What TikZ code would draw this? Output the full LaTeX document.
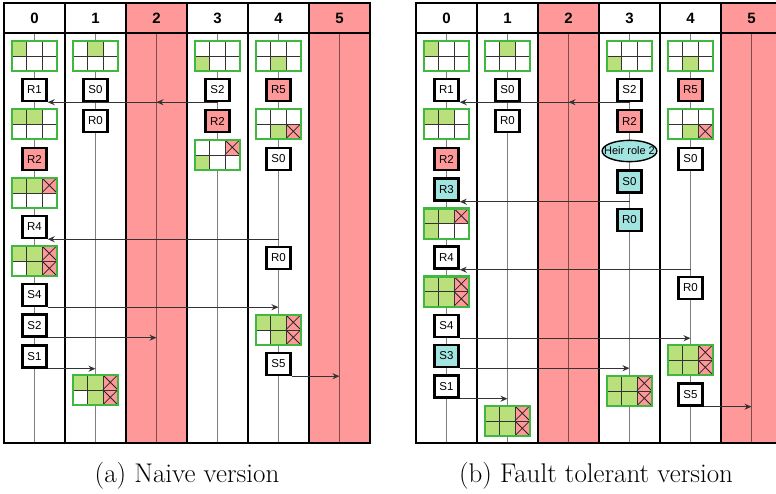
\documentclass[tikz,border=0pt]{standalone}
\usepackage{fontspec}
\setsansfont{Liberation Sans}
\usetikzlibrary{arrows.meta,calc,shapes.geometric}

\definecolor{failred}{RGB}{255,153,153}
\definecolor{cellgreen}{RGB}{185,224,122}
\definecolor{gridgreen}{RGB}{64,184,64}
\definecolor{heircyan}{RGB}{162,228,224}

% state of the 3x2 board: name, centre, list of cell/style
\newcommand{\stategrid}[3]{%
  \node[gridbox] (#1) at (#2) {};
  \foreach \ci/\k in {#3} {
    \pgfmathtruncatemacro\cx{mod(\ci,3)}
    \pgfmathtruncatemacro\cy{(\ci-\cx)/3}
    \path[\k] ([xshift=\cx*15pt, yshift=-\cy*15pt]#1.north west) rectangle ++(15,15);
  }
  \draw[cellline] ($(#1.north west)!1/3!(#1.north east)$) -- ($(#1.south west)!1/3!(#1.south east)$)
                  ($(#1.north west)!2/3!(#1.north east)$) -- ($(#1.south west)!2/3!(#1.south east)$)
                  (#1.west) -- (#1.east);
  \draw[gridframe] (#1.north west) rectangle (#1.south east);
}

\begin{document}
\begin{tikzpicture}[x=1pt, y=-1pt,
  lane/.style={line width=2.4pt},
  life/.style={black, opacity=0.5, line width=1.4pt},
  msgline/.style={black!80, line width=1.2pt, -{Stealth[length=7pt,width=6pt]}},
  evbox/.style={draw, line width=2.4pt, fill=white, minimum width=24pt, minimum height=22pt, inner sep=0pt, font=\sffamily\fontsize{11.5}{13}\selectfont},
  lost/.style={evbox, fill=failred},
  heir/.style={evbox, fill=heircyan},
  gridbox/.style={fill=white, minimum width=45pt, minimum height=30pt, inner sep=0pt},
  gridframe/.style={draw=gridgreen, line width=2.4pt},
  cellline/.style={black!80, line width=0.9pt},
  cellg/.style={fill=cellgreen},
  cellx/.style={fill=failred, path picture={\draw[black!85, line width=0.8pt]
      (path picture bounding box.south west) -- (path picture bounding box.north east)
      (path picture bounding box.north west) -- (path picture bounding box.south east);}},
  head/.style={font=\sffamily\bfseries\fontsize{15}{18}\selectfont},
  caption/.style={font=\fontsize{27}{32}\selectfont}]
\useasboundingbox (0,0) rectangle (776,493);
\clip (0,0) rectangle (776,493);

% the two runs: columns, lifelines, headers
\foreach \p/\x in {a/4, b/416} {
  \fill[failred] (\x+122,3) rectangle (\x+183,443);
  \fill[failred] (\x+305,3) rectangle (\x+366,443);
  \foreach \k in {0,...,5} {
    \coordinate (\p\k) at (\x+30.5+61*\k,33);
    \draw[life] (\p\k) -- ++(0,410);
    \node[head] (\p h\k) at (\x+30.5+61*\k,18) {\k};
  }
  \draw[lane] (\x,3) rectangle (\x+366,443);
  \draw[lane] (\x,33) -- (\x+366,33);
  \foreach \k in {1,...,5}
    \draw[lane] (\x+61*\k,3) -- (\x+61*\k,443);
}

% (a) naive
\stategrid{ag0a}{34.5,56}{0/cellg}
\node[evbox] (a0R1) at (34.5,90) {R1};
\stategrid{ag0b}{34.5,124}{0/cellg,1/cellg}
\node[lost] (a0R2) at (34.5,159) {R2};
\stategrid{ag0c}{34.5,193}{0/cellg,1/cellg,2/cellx}
\node[evbox] (a0R4) at (34.5,227) {R4};
\stategrid{ag0d}{34.5,261}{0/cellg,1/cellg,2/cellx,4/cellg,5/cellx}
\node[evbox] (a0S4) at (34.5,295) {S4};
\node[evbox] (a0S2) at (34.5,325.5) {S2};
\node[evbox] (a0S1) at (34.5,356.5) {S1};

\stategrid{ag1a}{95.5,56}{1/cellg}
\node[evbox] (a1S0) at (95.5,90) {S0};
\node[evbox] (a1R0) at (95.5,121) {R0};
\stategrid{ag1b}{95.5,390}{0/cellg,1/cellg,2/cellx,4/cellg,5/cellx}

\stategrid{ag3a}{217.5,56}{3/cellg}
\node[evbox] (a3S2) at (217.5,90) {S2};
\node[lost] (a3R2) at (217.5,121) {R2};
\stategrid{ag3b}{217.5,155}{2/cellx,3/cellg}

\stategrid{ag4a}{278.5,56}{4/cellg}
\node[lost] (a4R5) at (278.5,90) {R5};
\stategrid{ag4b}{278.5,124}{4/cellg,5/cellx}
\node[evbox] (a4S0) at (278.5,159) {S0};
\node[evbox] (a4R0) at (278.5,258) {R0};
\stategrid{ag4c}{278.5,330}{0/cellg,1/cellg,2/cellx,4/cellg,5/cellx}
\node[evbox] (a4S5) at (278.5,364) {S5};

\draw[msgline] (a0R1.south east -| a3) -- (a0R1.south east);
\draw[msgline] (a0R1.south east -| a3) -- (a0R1.south east -| a2);
\draw[msgline] (a0R4.south east -| a4) -- (a0R4.south east);
\draw[msgline] (a0S4.south east) -- (a0S4.south east -| a4);
\draw[msgline] (a0S2.south east) -- (a0S2.south east -| a2);
\draw[msgline] (a0S1.south east) -- (a0S1.south east -| a1);
\draw[msgline] (a4S5.south east) -- (a4S5.south east -| a5);

% (b) fault tolerant
\stategrid{bg0a}{446.5,56}{0/cellg}
\node[evbox] (b0R1) at (446.5,90) {R1};
\stategrid{bg0b}{446.5,124}{0/cellg,1/cellg}
\node[lost] (b0R2) at (446.5,159) {R2};
\node[heir] (b0R3) at (446.5,189.5) {R3};
\stategrid{bg0c}{446.5,223.5}{0/cellg,1/cellg,2/cellx,3/cellg}
\node[evbox] (b0R4) at (446.5,257.5) {R4};
\stategrid{bg0d}{446.5,291.5}{0/cellg,1/cellg,2/cellx,3/cellg,4/cellg,5/cellx}
\node[evbox] (b0S4) at (446.5,326) {S4};
\node[heir] (b0S3) at (446.5,356) {S3};
\node[evbox] (b0S1) at (446.5,386.5) {S1};

\stategrid{bg1a}{507.5,56}{1/cellg}
\node[evbox] (b1S0) at (507.5,90) {S0};
\node[evbox] (b1R0) at (507.5,121) {R0};
\stategrid{bg1b}{507.5,421}{0/cellg,1/cellg,2/cellx,3/cellg,4/cellg,5/cellx}

\stategrid{bg3a}{629.5,56}{3/cellg}
\node[evbox] (b3S2) at (629.5,90) {S2};
\node[lost] (b3R2) at (629.5,121) {R2};
\node[draw, ellipse, line width=1.4pt, fill=heircyan, inner xsep=-6pt, inner ysep=3.5pt,
  font=\sffamily\fontsize{11}{13}\selectfont] (b3heir) at (629.5,151) {Heir role 2};
\node[heir] (b3S0) at (629.5,181.5) {S0};
\node[heir] (b3R0) at (629.5,220) {R0};
\stategrid{bg3b}{629.5,391}{0/cellg,1/cellg,2/cellx,3/cellg,4/cellg,5/cellx}

\stategrid{bg4a}{690.5,56}{4/cellg}
\node[lost] (b4R5) at (690.5,90) {R5};
\stategrid{bg4b}{690.5,124}{4/cellg,5/cellx}
\node[evbox] (b4S0) at (690.5,159) {S0};
\node[evbox] (b4R0) at (690.5,288) {R0};
\stategrid{bg4c}{690.5,360}{0/cellg,1/cellg,2/cellx,3/cellg,4/cellg,5/cellx}
\node[evbox] (b4S5) at (690.5,394.5) {S5};

\draw[msgline] (b0R1.south east -| b3) -- (b0R1.south east);
\draw[msgline] (b0R1.south east -| b3) -- (b0R1.south east -| b2);
\draw[msgline] (b0R3.south east -| b3) -- (b0R3.south east);
\draw[msgline] (b0R4.south east -| b4) -- (b0R4.south east);
\draw[msgline] (b0S4.south east) -- (b0S4.south east -| b4);
\draw[msgline] (b0S3.south east) -- (b0S3.south east -| b3);
\draw[msgline] (b0S1.south east) -- (b0S1.south east -| b1);
\draw[msgline] (b4S5.south east) -- (b4S5.south east -| b5);

\node[caption] (capa) at (187,476) {(a) Naive version};
\node[caption] (capb) at (596,476) {(b) Fault tolerant version};
\end{tikzpicture}
\end{document}
